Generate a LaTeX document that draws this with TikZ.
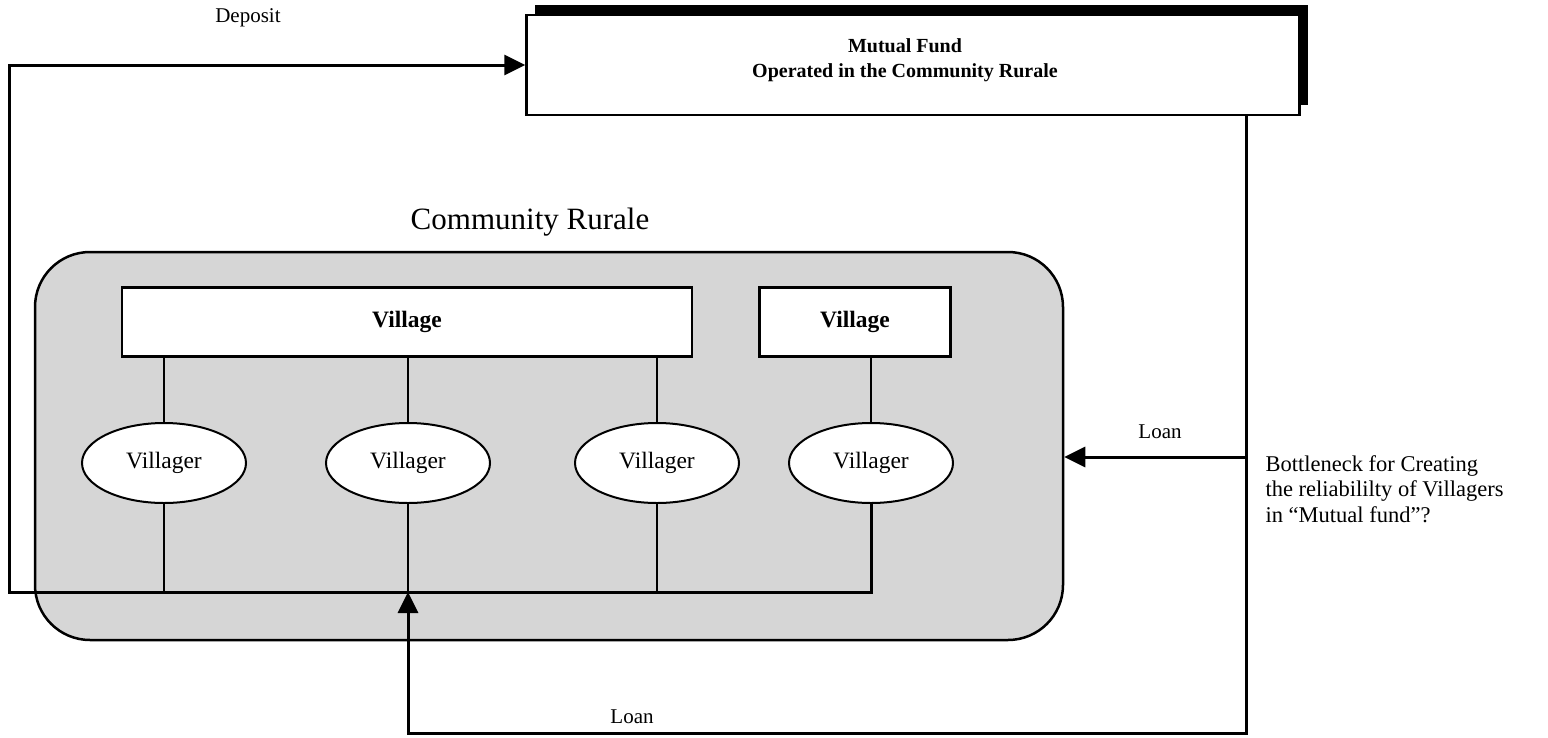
\documentclass[tikz,border=0pt]{standalone}
\usepackage{fontspec}
\setmainfont{Liberation Serif}
\usetikzlibrary{arrows.meta,shapes.geometric,shadows}

\begin{document}
\begin{tikzpicture}[x=1pt,y=-1pt,
  conn/.style={line width=3pt},
  tip/.style={-{Triangle[length=21pt,width=20pt]}},
  link/.style={line width=2pt},
  fundbox/.style={draw,line width=2.5pt,fill=white,
    general shadow={fill=black,shadow xshift=8pt,shadow yshift=10pt}},
  areabox/.style={draw,line width=2.5pt,rounded corners=55pt,fill=black!16},
  villagebox/.style={draw,line width=2.5pt,fill=white,minimum height=69pt,
    font=\bfseries\fontsize{23.5}{27}\selectfont},
  villager/.style={ellipse,draw,line width=2pt,fill=white,minimum width=164pt,
    minimum height=80pt,inner sep=0pt,font=\fontsize{23.5}{27}\selectfont},
  lbl/.style={font=\fontsize{21}{25}\selectfont}
]
\useasboundingbox (0,0) rectangle (1548,737);

% the mutual fund, with its dark shadow
\node[fundbox,minimum width=773pt,minimum height=100pt] (mf) at (913,65) {};
\node[align=center,font=\bfseries\fontsize{20}{25}\selectfont] (mft) at (905,60)
  {Mutual Fund\\Operated in the Community Rurale};

% the community area
\node[font=\fontsize{31}{36}\selectfont] (crt) at (530,222) {Community Rurale};
\node[areabox,minimum width=1028pt,minimum height=388pt] (cr) at (549,446) {};

% villages
\node[villagebox,minimum width=570pt] (v1) at (407,322) {Village};
\node[villagebox,minimum width=191pt] (v2) at (855,322) {Village};

% villagers
\node[villager] (e1) at (164,463) {Villager};
\node[villager] (e2) at (408,463) {Villager};
\node[villager] (e3) at (657,463) {Villager};
\node[villager] (e4) at (871,463) {Villager};

\draw[link] (e1.north |- v1.south) -- (e1.north);
\draw[link] (e2.north |- v1.south) -- (e2.north);
\draw[link] (e3.north |- v1.south) -- (e3.north);
\draw[link] (e4.north |- v2.south) -- (e4.north);

% common line of the villagers and the deposit path
\coordinate (bus) at (9,592);
\draw[link] (e1.south) -- (e1.south |- bus);
\draw[link] (e2.south) -- (e2.south |- bus);
\draw[link] (e3.south) -- (e3.south |- bus);
\draw[conn,tip] (e4.south) |- (bus) |- (mf.west);
\node[lbl] (dep) at (248,18) {Deposit};

% loans from the fund
\coordinate (rt) at (1246,733);
\coordinate (lr) at (1246,457);
\draw[conn,tip] (rt |- mf.south) -- (rt) -| (e2.south |- bus);
\draw[conn,tip] (lr) -- (lr -| cr.east);
\node[lbl] (loan1) at (1160,432) {Loan};
\node[lbl] (loan2) at (632,717) {Loan};

\node[anchor=west,align=left,font=\fontsize{22.5}{25.5}\selectfont] (bn) at (1262,489)
  {Bottleneck for Creating\\the reliabililty of Villagers\\in “Mutual fund”?};
\end{tikzpicture}
\end{document}
